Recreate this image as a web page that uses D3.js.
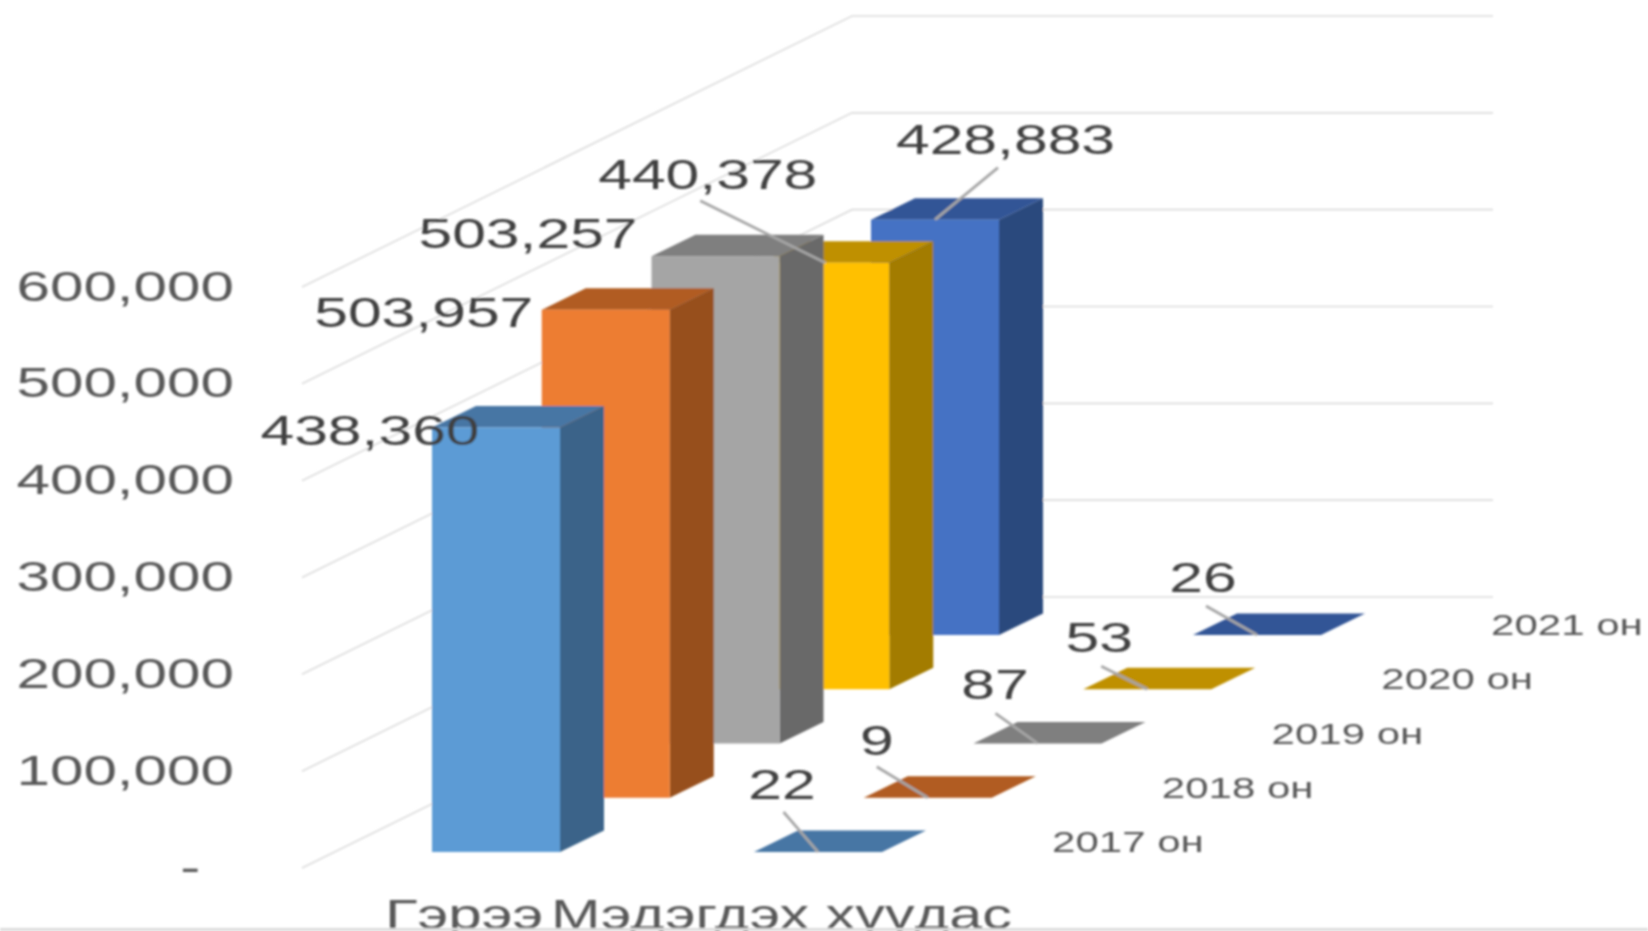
<!DOCTYPE html>
<html>
<head>
<meta charset="utf-8">
<script src="https://cdn.jsdelivr.net/npm/d3@7"></script>
<style>
  html, body { margin: 0; padding: 0; background: #fff; overflow: hidden; }
  text { font-family: "Liberation Sans", Arial, sans-serif; }
</style>
</head>
<body>
<div id="chart"></div>
<script>
// chart values
var categories = ["Гэрээ", "Мэдэгдэх хүүдас"];
var years = ["2017 он", "2018 он", "2019 он", "2020 он", "2021 он"];
var contractValues = [438360, 503957, 503257, 440378, 428883];
var noticeValues = [22, 9, 87, 53, 26];
var yTicks = [0, 100000, 200000, 300000, 400000, 500000, 600000];

// bar colours per year: front, side, top
var frontColors = ["#5b9bd5", "#ed7d31", "#a5a5a5", "#ffc000", "#4472c4"];
var sideColors = ["#3a6489", "#97501e", "#696969", "#a37b00", "#2b487d"];
var topColors = ["#4676a4", "#b15b22", "#7f7f7f", "#bf9000", "#325596"];

// label offsets from the top-front centre of each bar, [label dx, label dy, leader dx, leader dy]
var contractLabelOffsets = [[-126, 2], [-182, 2], [-187.5, -23], [-117.5, -89, -125, -62], [70.5, -81, 63, -52]];
var noticeLabelOffsets = [[-36, -68, -34.5, -40], [-51, -58, -51, -31], [-42.5, -59, -42, -30], [-48, -52, -46, -23], [-54, -58, -51, -29]];

var width = 1648, height = 931;
var barWidth = 128, depthX = 44, depthY = 21.5;
var stretch = 1.41; // the picture is wider than it is tall, text gets the same stretch

var svg = d3.select("#chart")
  .append("svg")
    .attr("width", width)
    .attr("height", height)
    .style("display", "block");

var defs = svg.append("defs");
defs.append("filter")
    .attr("id", "soft")
    .attr("filterUnits", "userSpaceOnUse")
    .attr("x", 0).attr("y", 0)
    .attr("width", width).attr("height", height)
  .append("feGaussianBlur")
    .attr("stdDeviation", 0.9);

var root = svg.append("g").attr("filter", "url(#soft)");

var y = d3.scaleLinear().domain([0, 600000]).range([868, 287]);
var catX = d3.scalePoint().domain(categories).range([432, 754]);
var yearX = d3.scalePoint().domain(years).range([0, 439]);
var yearFloor = d3.scalePoint().domain(years).range([852, 635]);

function barHeight(v) { return y(0) - y(v); }

// walls
var wallRun = 550, wallRise = 271, wallEnd = 1493;
yTicks.forEach(function(t) {
  root.append("polyline")
    .attr("fill", "none")
    .attr("stroke", "#dcdcdc")
    .attr("stroke-width", 1.6)
    .attr("points", [
      [302, y(t)],
      [302 + wallRun, y(t) - wallRise],
      [wallEnd, y(t) - wallRise]
    ].join(" "));
});

// value axis
var axis = root.append("g")
  .attr("transform", "translate(234,-2)")
  .call(d3.axisLeft(y)
    .tickValues(yTicks)
    .tickSize(0)
    .tickPadding(0)
    .tickFormat(function(d) { return d === 0 ? "-" : d3.format(",")(d); }));
axis.select(".domain").remove();
axis.selectAll("text")
  .attr("x", function(d) { return d === 0 ? -24 : 0; })
  .attr("dy", ".35em")
  .attr("font-size", 43)
  .attr("font-family", "Liberation Sans")
  .attr("fill", "#595959")
  .attr("transform", "scale(1.4,1)");

function drawBar(cat, year, value, i) {
  var x0 = catX(cat) + yearX(year),
      floor = yearFloor(year),
      top = floor - barHeight(value),
      x1 = x0 + barWidth;
  root.append("polygon")
    .attr("fill", sideColors[i])
    .attr("points", [[x1, floor], [x1 + depthX, floor - depthY], [x1 + depthX, top - depthY], [x1, top]].join(" "));
  root.append("polygon")
    .attr("fill", topColors[i])
    .attr("points", [[x0, top], [x1, top], [x1 + depthX, top - depthY], [x0 + depthX, top - depthY]].join(" "));
  root.append("rect")
    .attr("fill", frontColors[i])
    .attr("x", x0)
    .attr("y", top)
    .attr("width", barWidth)
    .attr("height", floor - top);
}

function drawLabel(cat, year, value, off) {
  var ax = catX(cat) + yearX(year) + barWidth / 2,
      ay = yearFloor(year) - barHeight(value);
  if (off.length > 2) {
    root.append("line")
      .attr("x1", ax + off[2])
      .attr("y1", ay + off[3])
      .attr("x2", ax)
      .attr("y2", ay)
      .attr("stroke", "#a6a6a6")
      .attr("stroke-width", 2.8);
  }
  root.append("text")
    .attr("transform", "translate(" + (ax + off[0]) + "," + (ay + off[1]) + ") scale(" + stretch + ",1)")
    .attr("text-anchor", "middle")
    .attr("dy", ".35em")
    .attr("font-size", 43)
    .attr("fill", "#404040")
    .text(d3.format(",")(value));
}

// back series first so the front ones cover them
for (var i = years.length - 1; i >= 0; i--) {
  drawBar(categories[0], years[i], contractValues[i], i);
  drawBar(categories[1], years[i], noticeValues[i], i);
}
for (i = 0; i < years.length; i++) {
  drawLabel(categories[1], years[i], noticeValues[i], noticeLabelOffsets[i]);
}
for (i = years.length - 1; i >= 0; i--) {
  drawLabel(categories[0], years[i], contractValues[i], contractLabelOffsets[i]);
}

// depth axis labels
years.forEach(function(name) {
  root.append("text")
    .attr("transform", "translate(" + (catX(categories[1]) + yearX(name) + 298) + "," + (yearFloor(name) - 10) + ") scale(1.45,1)")
    .attr("dy", ".35em")
    .attr("font-size", 29)
    .attr("fill", "#595959")
    .text(name);
});

// category labels, cut by the strip at the bottom
root.append("text")
  .attr("transform", "translate(385,929) scale(1.4,1)")
  .attr("font-size", 43)
  .attr("fill", "#595959")
  .text(categories[0]);
root.append("text")
  .attr("transform", "translate(551,929) scale(1.38,1)")
  .attr("font-size", 43)
  .attr("fill", "#595959")
  .text(categories[1]);

root.append("rect")
  .attr("x", 0)
  .attr("y", 928)
  .attr("width", width)
  .attr("height", 3)
  .attr("fill", "#dcdcdc");
</script>
</body>
</html>
